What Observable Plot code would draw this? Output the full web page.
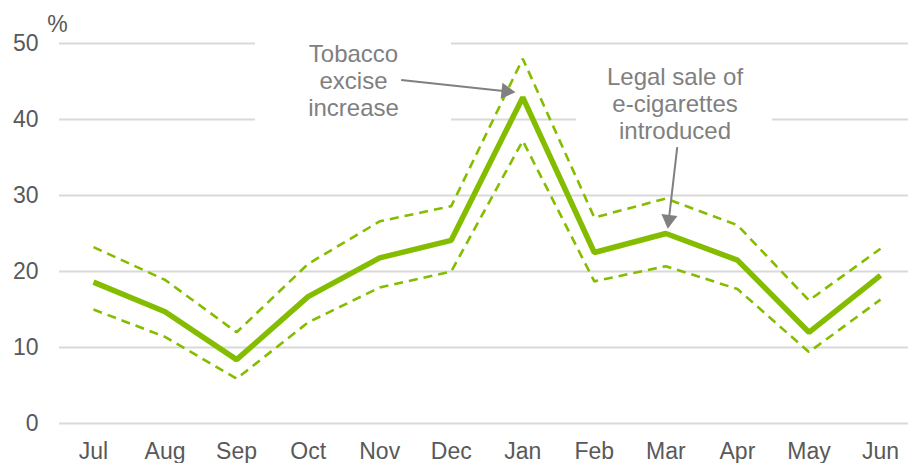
<!DOCTYPE html>
<html><head><meta charset="utf-8">
<script src="https://cdn.jsdelivr.net/npm/d3@7"></script>
<script src="https://cdn.jsdelivr.net/npm/@observablehq/plot@0.6"></script>
<style>body{margin:0;background:#fff} svg{display:block}</style>
</head><body><div id="chart"></div>
<script>
const months = ["Jul","Aug","Sep","Oct","Nov","Dec","Jan","Feb","Mar","Apr","May","Jun"];
const estimate = [18.6,14.7,8.4,16.7,21.8,24.1,42.9,22.5,25.0,21.5,12.0,19.5];
const upper    = [23.2,18.9,12.0,21.0,26.6,28.6,48.0,27.1,29.6,26.1,16.2,23.0];
const lower    = [15.0,11.4,5.9,13.3,17.9,20.0,37.2,18.7,20.7,17.7,9.4,16.3];
const yTicks = [0,10,20,30,40,50];

// annotations (data coordinates: x = month index, y = %)
const noteTexts = [
  {x: 3.634, y: 45.18, text: "Tobacco\nexcise\nincrease"},
  {x: 8.128, y: 42.16, text: "Legal sale of\ne-cigarettes\nintroduced"}
];
const noteBoxes = [
  {x1: 2.264, x2: 5.004, y1: 38, y2: 51},
  {x1: 6.751, x2: 9.490, y1: 38, y2: 48.5}
];
const noteArrows = [
  {x1: 4.30, y1: 45.21, x2: 5.73, y2: 43.76, hx: 5.768, hy: 43.72, angle: 96.2},
  {x1: 8.159, y1: 36.36, x2: 8.048, y2: 27.32, hx: 8.042, hy: 26.83, angle: 186.6}
];

const rows = months.map((m, i) => ({i, month: m, estimate: estimate[i], upper: upper[i], lower: lower[i]}));
const green = "#84bd00";
const noteGray = "#808080";

const chart = Plot.plot({
  width: 908,
  height: 463,
  marginLeft: 59,
  marginRight: 0,
  marginTop: 43,
  marginBottom: 40,
  style: {fontSize: "23px", fontFamily: "'Liberation Sans', Arial, sans-serif", color: "#595959", background: "#fff"},
  x: {type: "linear", domain: [0, 11], range: [93, 880]},
  y: {domain: [0, 50]},
  marks: [
    Plot.ruleY(yTicks, {stroke: "#d9d9d9", strokeWidth: 2}),
    Plot.rect(noteBoxes, {x1: "x1", x2: "x2", y1: "y1", y2: "y2", fill: "#fff"}),
    Plot.axisY({ticks: yTicks, tickSize: 0, tickPadding: 21, label: null}),
    Plot.axisX({ticks: d3.range(12), tickFormat: i => months[i], tickSize: 0, tickPadding: 19, label: null}),
    Plot.text(["%"], {frameAnchor: "top-left", dx: -2, dy: -19, textAnchor: "middle", lineAnchor: "middle", fill: "#595959", text: d => d}),
    Plot.line(rows, {x: "i", y: "upper", stroke: green, strokeWidth: 2.6, strokeDasharray: "9,6", strokeLinecap: "butt", strokeLinejoin: "miter"}),
    Plot.line(rows, {x: "i", y: "lower", stroke: green, strokeWidth: 2.6, strokeDasharray: "9,6", strokeLinecap: "butt", strokeLinejoin: "miter"}),
    Plot.line(rows, {x: "i", y: "estimate", stroke: green, strokeWidth: 5.5, strokeLinejoin: "miter", strokeLinecap: "butt"}),
    Plot.link(noteArrows, {x1: "x1", y1: "y1", x2: "x2", y2: "y2", stroke: noteGray, strokeWidth: 2}),
    Plot.dot(noteArrows, {x: "hx", y: "hy", symbol: "triangle", r: 6, fill: noteGray, stroke: "none", rotate: "angle"}),
    Plot.text(noteTexts, {x: "x", y: "y", text: "text", fill: noteGray, fontSize: 24, lineHeight: 1.13, textAnchor: "middle"})
  ]
});
document.getElementById("chart").appendChild(chart);
</script>
</body></html>
